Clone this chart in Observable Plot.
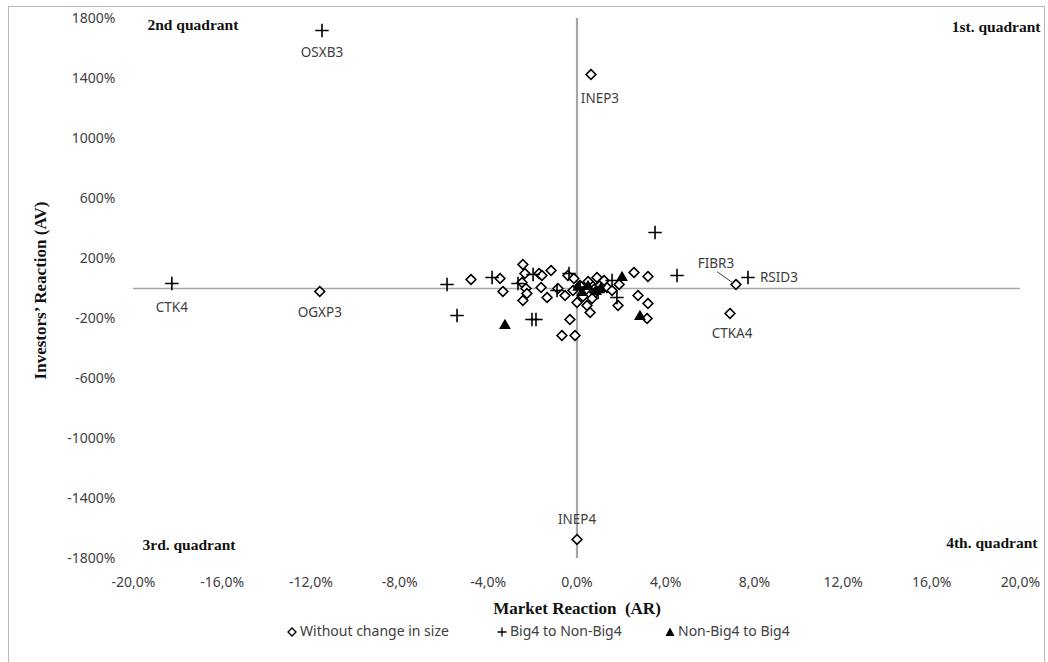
<!DOCTYPE html>
<html>
<head>
<meta charset="utf-8">
<script src="https://cdn.jsdelivr.net/npm/d3@7"></script>
<script src="https://cdn.jsdelivr.net/npm/@observablehq/plot@0.6"></script>
<style>
  html, body { margin: 0; padding: 0; background: #fff; }
  #wrap { position: relative; width: 1048px; height: 662px; overflow: hidden; }
  #frame { position: absolute; left: 8px; top: 6px; width: 1037px; height: 700px; border: 1.5px solid #b8b8b8; box-sizing: border-box; }
  #chart { position: absolute; left: 0; top: 0; }
  #legend { position: absolute; left: 0; width: 1048px; top: 621px; text-align: left; font-family: "Noto Sans", sans-serif; font-size: 14px; color: #404040; }
  #legend .item { position: absolute; top: 0; white-space: nowrap; }
  #legend svg { vertical-align: -1px; margin-right: 3px; }
</style>
</head>
<body>
<div id="wrap">
  <div id="frame"></div>
  <div id="chart"></div>
  <div id="legend"></div>
</div>
<script>
// ---- Data (x = market reaction AR in %, y = investors' reaction AV in %) ----
const seriesNames = ["Without change in size", "Big4 to Non-Big4", "Non-Big4 to Big4"];

const noChangeX = [0.63, 0.0, -11.6, 7.17, 6.9, 3.2, 2.57, 2.75, 3.2, 3.16, 1.85, 0.9, 1.35,
  -4.78, -3.47, -3.34, -2.44, -2.35, -1.71, -1.17, -2.48, -2.3, -2.26, -2.44, -1.62, -1.35, -1.58,
  -0.86, -0.54, -0.41, -0.14, -0.32, -0.68, -0.09, 0.0, 0.45, 0.59,
  0.14, 0.36, 0.59, 0.81, 1.04, 0.27, 0.68, 1.22, 1.58, -0.18, 1.9, 0.5];
const noChangeY = [1427, -1673, -20, 27, -167, 80, 107, -47, -100, -200, -113, 73, 7,
  60, 67, -20, 160, 100, 100, 120, 40, 0, -33, -80, 7, -60, 87,
  0, -47, 87, 67, -207, -313, -313, -93, -113, -160,
  20, -13, 33, -27, 20, -53, -67, 53, -13, -13, 27, 47];
const noChangeLabel = ["INEP3", "INEP4", "OGXP3", "FIBR3", "CTKA4"];

const big4ToNonX = [-11.5, -18.27, 7.71, 3.52, 4.51, 1.8, 1.58, -5.86, -3.83, -5.41, -2.03, -1.85,
  -1.98, -2.66, -0.9, -0.36, 0.14, 0.95];
const big4ToNonY = [1720, 33, 73, 373, 87, -60, 53, 27, 73, -180, -207, -207,
  93, 33, -13, 100, 7, -27];
const big4ToNonLabel = ["OSXB3", "CTK4", "RSID3"];

const nonToBig4X = [-3.25, 2.84, 2.03, 0.05, 0.23, 0.86, 1.08, 0.5];
const nonToBig4Y = [-247, -187, 73, 7, -27, -20, 0, 13];

const xTicks = [-20, -16, -12, -8, -4, 0, 4, 8, 12, 16, 20];
const yTicks = [1800, 1400, 1000, 600, 200, -200, -600, -1000, -1400, -1800];
const quadrantLabels = ["1st. quadrant", "2nd quadrant", "3rd. quadrant", "4th. quadrant"];
const axisTitles = ["Market Reaction  (AR)", "Investors\u2019 Reaction (AV)"];

// ---- Build tables ----
const noChange = noChangeX.map((x, i) => ({x, y: noChangeY[i], label: noChangeLabel[i] || null}));
const big4ToNon = big4ToNonX.map((x, i) => ({x, y: big4ToNonY[i], label: big4ToNonLabel[i] || null}));
const nonToBig4 = nonToBig4X.map((x, i) => ({x, y: nonToBig4Y[i]}));

const sans = "'Noto Sans', 'Open Sans', sans-serif";
const serif = "'Liberation Serif', 'DejaVu Serif', serif";
const grey = "#404040";

const fmtX = d => (Math.abs(d) < 1e-9 ? 0 : d).toFixed(1).replace(".", ",") + "%";
const fmtY = d => d + "%";

const lab = (name, opts) => Plot.text(noChange.concat(big4ToNon), {
  filter: d => d.label === name, x: "x", y: "y", text: "label",
  fontFamily: sans, fontSize: 13.5, fill: grey, ...opts
});
const fibr = noChange.find(d => d.label === "FIBR3");

const chart = Plot.plot({
  width: 1048,
  height: 625,
  marginTop: 18,
  marginBottom: 67,
  marginLeft: 133,
  marginRight: 28,
  x: {domain: [-20, 20]},
  y: {domain: [-1800, 1800]},
  marks: [
    Plot.ruleY([0], {stroke: "#a6a6a6", strokeWidth: 1.5}),
    Plot.ruleX([0], {stroke: "#a6a6a6", strokeWidth: 2.2}),
    Plot.axisX({ticks: xTicks, tickFormat: fmtX, tickSize: 0, tickPadding: 19, label: null,
      fontFamily: sans, fontSize: 14, color: grey}),
    Plot.axisY({ticks: yTicks, tickFormat: fmtY, tickSize: 0, tickPadding: 18, label: null,
      fontFamily: sans, fontSize: 14, color: grey}),
    Plot.dot(noChange, {x: "x", y: "y", symbol: "diamond2", r: 4.4, stroke: "black", fill: "white", strokeWidth: 1.6}),
    Plot.dot(big4ToNon, {x: "x", y: "y", symbol: "plus", r: 4.4, stroke: "black", strokeWidth: 1.6}),
    Plot.dot(nonToBig4, {x: "x", y: "y", symbol: "triangle", r: 4.4, fill: "black", stroke: "none"}),
    // FIBR3 leader line
    Plot.link([fibr], {x1: d => d.x - 0.85, y1: d => d.y + 85, x2: d => d.x - 0.12, y2: d => d.y + 8, stroke: grey, strokeWidth: 1}),
    lab("OSXB3", {dy: 22}),
    lab("INEP3", {dx: 9, dy: 24}),
    lab("INEP4", {dy: -20}),
    lab("CTK4", {dy: 24}),
    lab("OGXP3", {dy: 21}),
    lab("FIBR3", {dx: -20, dy: -21}),
    lab("RSID3", {dx: 12, textAnchor: "start"}),
    lab("CTKA4", {dx: 2, dy: 20}),
    // quadrant labels
    Plot.text([quadrantLabels[1]], {frameAnchor: "top-left", textAnchor: "start", lineAnchor: "middle", dx: 14, dy: 7,
      fontFamily: serif, fontWeight: "bold", fontSize: 15.5, fill: "#111"}),
    Plot.text([quadrantLabels[0]], {frameAnchor: "top-right", textAnchor: "end", lineAnchor: "middle", dx: 20, dy: 9,
      fontFamily: serif, fontWeight: "bold", fontSize: 15.5, fill: "#111"}),
    Plot.text([quadrantLabels[2]], {frameAnchor: "bottom-left", textAnchor: "start", lineAnchor: "middle", dx: 9, dy: -13,
      fontFamily: serif, fontWeight: "bold", fontSize: 15.5, fill: "#111"}),
    Plot.text([quadrantLabels[3]], {frameAnchor: "bottom-right", textAnchor: "end", lineAnchor: "middle", dx: 17, dy: -15,
      fontFamily: serif, fontWeight: "bold", fontSize: 15.5, fill: "#111"}),
    // axis titles
    Plot.text([axisTitles[0]], {frameAnchor: "bottom", textAnchor: "middle", lineAnchor: "middle", dy: 50,
      fontFamily: serif, fontWeight: "bold", fontSize: 17, fill: "#111"}),
    Plot.text([axisTitles[1]], {frameAnchor: "left", textAnchor: "middle", lineAnchor: "middle", rotate: -90, dx: -93, dy: 2,
      fontFamily: serif, fontWeight: "bold", fontSize: 17, fill: "#111"})
  ]
});
document.getElementById("chart").appendChild(chart);

// ---- Legend ----
const legend = document.getElementById("legend");
const legendSymbols = [
  '<svg width="10" height="10" viewBox="-5 -5 10 10"><path d="M0,-4L4,0L0,4L-4,0Z" fill="white" stroke="black" stroke-width="1.3"/></svg>',
  '<svg width="10" height="10" viewBox="-5 -5 10 10"><path d="M-4.5,0H4.5M0,-4.5V4.5" stroke="black" stroke-width="1.3"/></svg>',
  '<svg width="10" height="10" viewBox="-5 -5 10 10"><path d="M0,-4.5L4.5,4L-4.5,4Z" fill="black"/></svg>'
];
const legendLeft = [287, 497, 665];
seriesNames.forEach((name, i) => {
  const s = document.createElement("span");
  s.className = "item";
  s.style.left = legendLeft[i] + "px";
  s.innerHTML = legendSymbols[i] + name;
  legend.appendChild(s);
});
</script>
</body>
</html>
